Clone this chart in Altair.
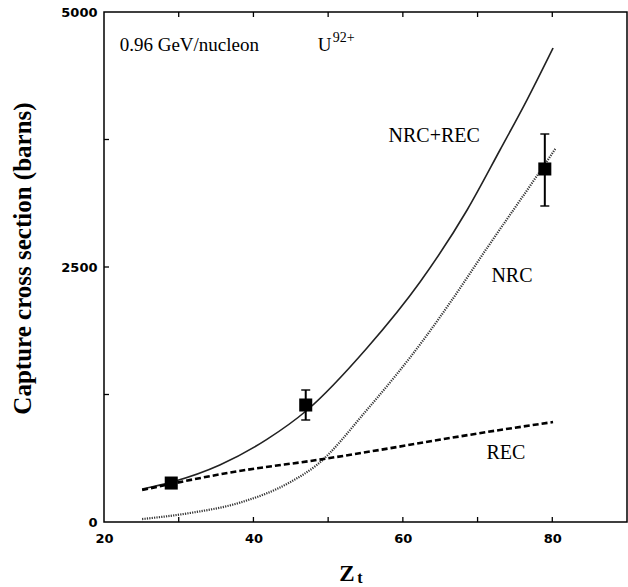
import altair as alt
import pandas as pd

# Theory curves (Zt, capture cross section in barns)
tot_z = [25.1, 29.1, 35.5, 41.8, 47.2, 55.2, 62.3, 68.6, 73.0, 76.6, 80.1]
tot_s = [324, 392, 559, 810, 1098, 1706, 2353, 3059, 3647, 4137, 4647]
nrc_z = [25.1, 31.5, 38.2, 44.9, 48.5, 55.2, 62.7, 66.7, 71.3, 76.6, 80.4]
nrc_s = [29, 88, 190, 390, 560, 1100, 1780, 2190, 2690, 3250, 3657]
rec_z = [25.1, 37.3, 48.5, 73.0, 80.1]
rec_s = [314, 490, 608, 902, 980]

# Experimental points
exp_z = [29, 47, 79]
exp_s = [382, 1147, 3461]
exp_lo = [382, 1000, 3098]
exp_hi = [382, 1294, 3804]

x_minor = [30, 40, 50, 60, 70, 80]
y_minor = [1250, 2500, 3750]
x_labels = [20, 40, 60, 80]
y_labels = [0, 2500, 5000]

W, H = 523, 510
SERIF = "Liberation Serif"
SANS = "DejaVu Sans"

xs = alt.Scale(domain=[20, 90], nice=False)
ys = alt.Scale(domain=[0, 5000], nice=False)

tot = pd.DataFrame({"z": tot_z, "s": tot_s})
nrc = pd.DataFrame({"z": nrc_z, "s": nrc_s})
rec = pd.DataFrame({"z": rec_z, "s": rec_s})
exp = pd.DataFrame({"z": exp_z, "s": exp_s, "lo": exp_lo, "hi": exp_hi})

xaxis = alt.Axis(values=x_labels, ticks=False, domain=False, grid=False,
                 labelFont=SANS, labelFontWeight="bold", labelFontSize=13,
                 labelPadding=10, labelFlush=False, labelColor="black", title=None)
yaxis = alt.Axis(values=y_labels, ticks=False, domain=False, grid=False, format="d",
                 labelFont=SANS, labelFontWeight="bold", labelFontSize=13,
                 labelPadding=7, labelColor="black",
                 title="Capture cross section (barns)", titleFont=SERIF,
                 titleFontSize=25, titleFontWeight="bold", titleColor="black",
                 titleX=-82, titleY=246, titleAngle=270, titleAlign="center",
                 titleBaseline="middle")

line_tot = alt.Chart(tot).mark_line(color="#222", strokeWidth=1.6, interpolate="monotone").encode(
    x=alt.X("z:Q", scale=xs, axis=xaxis),
    y=alt.Y("s:Q", scale=ys, axis=yaxis),
)
line_nrc = alt.Chart(nrc).mark_line(color="#333", strokeWidth=2.2, strokeDash=[1.2, 1.2],
                                    interpolate="monotone").encode(
    x=alt.X("z:Q", scale=xs), y=alt.Y("s:Q", scale=ys))
line_rec = alt.Chart(rec).mark_line(color="black", strokeWidth=2.6, strokeDash=[6, 3],
                                    interpolate="monotone").encode(
    x=alt.X("z:Q", scale=xs), y=alt.Y("s:Q", scale=ys))

err = alt.Chart(exp).mark_rule(color="black", strokeWidth=2).encode(
    x=alt.X("z:Q", scale=xs), y=alt.Y("lo:Q", scale=ys), y2="hi:Q")
cap_lo = alt.Chart(exp).mark_tick(color="black", orient="horizontal", size=9, thickness=2).encode(
    x=alt.X("z:Q", scale=xs), y=alt.Y("lo:Q", scale=ys))
cap_hi = alt.Chart(exp).mark_tick(color="black", orient="horizontal", size=9, thickness=2).encode(
    x=alt.X("z:Q", scale=xs), y=alt.Y("hi:Q", scale=ys))
pts = alt.Chart(exp).mark_point(shape="square", filled=True, color="black", size=170, opacity=1).encode(
    x=alt.X("z:Q", scale=xs), y=alt.Y("s:Q", scale=ys))

xt = pd.DataFrame({"z": x_minor})
yt = pd.DataFrame({"s": y_minor})
tick_b = alt.Chart(xt).mark_rule(color="black", strokeWidth=1.3).encode(
    x=alt.X("z:Q", scale=xs), y=alt.value(H - 5), y2=alt.value(H))
tick_t = alt.Chart(xt).mark_rule(color="black", strokeWidth=1.3).encode(
    x=alt.X("z:Q", scale=xs), y=alt.value(0), y2=alt.value(5))
tick_l = alt.Chart(yt).mark_rule(color="black", strokeWidth=1.3).encode(
    y=alt.Y("s:Q", scale=ys), x=alt.value(0), x2=alt.value(5))

# annotations
labels = pd.DataFrame({
    "z": [64.2, 74.6, 73.8],
    "s": [3784, 2412, 676],
    "t": ["NRC+REC", "NRC", "REC"],
})
lab = alt.Chart(labels).mark_text(font=SERIF, fontSize=20, color="black",
                                  align="center", baseline="middle").encode(
    x=alt.X("z:Q", scale=xs), y=alt.Y("s:Q", scale=ys), text="t:N")

head = pd.DataFrame({"z": [22.1, 48.6], "s": [4676, 4676], "t": ["0.96 GeV/nucleon", "U"]})
head_t = alt.Chart(head).mark_text(font=SERIF, fontSize=19, color="black",
                                   align="left", baseline="middle").encode(
    x=alt.X("z:Q", scale=xs), y=alt.Y("s:Q", scale=ys), text="t:N")
sup = alt.Chart(pd.DataFrame({"z": [50.6], "s": [4750], "t": ["92+"]})).mark_text(
    font=SERIF, fontSize=14, color="black", align="left", baseline="middle").encode(
    x=alt.X("z:Q", scale=xs), y=alt.Y("s:Q", scale=ys), text="t:N")

xtitle_z = alt.Chart(pd.DataFrame({"t": ["Z"]})).mark_text(
    font=SERIF, fontSize=23, fontWeight="bold", color="black", align="center",
    baseline="middle").encode(x=alt.value(243), y=alt.value(562), text="t:N")
xtitle_t = alt.Chart(pd.DataFrame({"t": ["t"]})).mark_text(
    font=SERIF, fontSize=16, fontWeight="bold", color="black", align="center",
    baseline="middle").encode(x=alt.value(256), y=alt.value(566), text="t:N")

chart = alt.layer(
    line_tot, line_nrc, line_rec, err, cap_lo, cap_hi, pts,
    tick_b, tick_t, tick_l, lab, head_t, sup, xtitle_z, xtitle_t,
).properties(
    width=W, height=H,
    autosize=alt.AutoSizeParams(type="none"),
    padding={"left": 104, "top": 12, "right": 1, "bottom": 65},
    background="white",
).configure_view(stroke="black", strokeWidth=1.5)

chart.save("out.html", embed_options={"renderer": "svg", "actions": False})
